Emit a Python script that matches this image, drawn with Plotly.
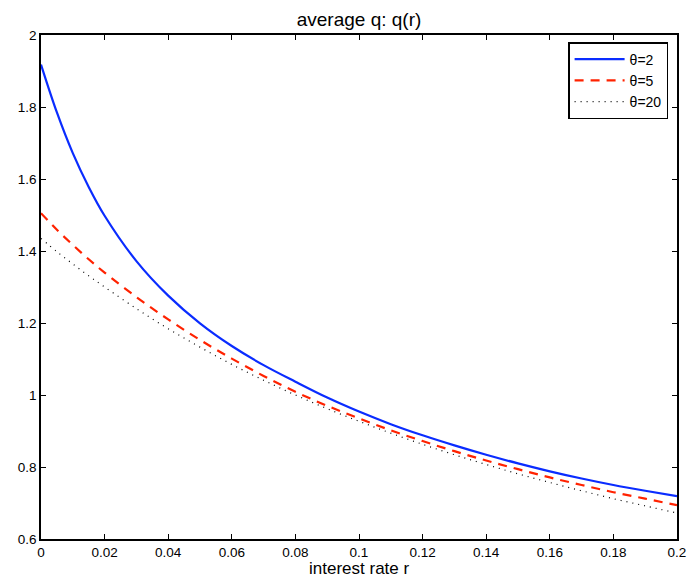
import plotly.graph_objects as go

r_vals = [0, 0.005, 0.01, 0.015, 0.02, 0.03, 0.04, 0.05, 0.06, 0.07, 0.08, 0.09, 0.10,
          0.11, 0.12, 0.13, 0.14, 0.15, 0.16, 0.17, 0.18, 0.19, 0.20]
q_theta2 = [1.918, 1.785, 1.672, 1.578, 1.498, 1.372, 1.276, 1.199, 1.136, 1.083, 1.037, 0.993, 0.954,
            0.919, 0.888, 0.860, 0.834, 0.810, 0.788, 0.768, 0.750, 0.734, 0.719]
q_theta5 = [1.505, 1.459, 1.417, 1.377, 1.340, 1.272, 1.210, 1.153, 1.101, 1.053, 1.009, 0.970, 0.935,
            0.902, 0.872, 0.844, 0.818, 0.794, 0.771, 0.750, 0.730, 0.712, 0.694]
q_theta20 = [1.435, 1.398, 1.364, 1.331, 1.300, 1.240, 1.184, 1.133, 1.085, 1.041, 1.000, 0.962, 0.927,
             0.894, 0.863, 0.834, 0.807, 0.781, 0.757, 0.734, 0.712, 0.692, 0.672]

x_ticks = [0, 0.02, 0.04, 0.06, 0.08, 0.1, 0.12, 0.14, 0.16, 0.18, 0.2]
x_labels = ["0", "0.02", "0.04", "0.06", "0.08", "0.1", "0.12", "0.14", "0.16", "0.18", "0.2"]
y_ticks = [0.6, 0.8, 1.0, 1.2, 1.4, 1.6, 1.8, 2.0]
y_labels = ["0.6", "0.8", "1", "1.2", "1.4", "1.6", "1.8", "2"]

series_names = ["θ=2", "θ=5", "θ=20"]
title_text = "average q: q(r)"
xlabel_text = "interest rate r"

fig = go.Figure()
fig.add_trace(go.Scatter(x=r_vals, y=q_theta2, mode="lines", name=series_names[0],
                         line=dict(color="#0a2cff", width=2.2, shape="spline")))
fig.add_trace(go.Scatter(x=r_vals, y=q_theta5, mode="lines", name=series_names[1],
                         line=dict(color="#ff2200", width=2.2, dash="9px,7px", shape="spline")))
fig.add_trace(go.Scatter(x=r_vals, y=q_theta20, mode="lines", name=series_names[2],
                         line=dict(color="black", width=1.2, dash="1px,5px", shape="spline")))

font = "Liberation Sans, Arial, Helvetica, sans-serif"
axis_common = dict(showgrid=False, zeroline=False, showline=True, linecolor="black", linewidth=1.5,
                   mirror="ticks", ticks="inside", ticklen=5, tickcolor="black", tickwidth=1,
                   automargin=False,
                   tickfont=dict(family=font, size=13.5, color="black"))

fig.update_layout(
    width=691, height=577,
    margin=dict(l=41, r=14, t=35, b=38),
    paper_bgcolor="white", plot_bgcolor="white",
    title=dict(text=title_text, xref="paper", x=0.5, xanchor="center", y=1 - 19 / 577, yanchor="middle",
               font=dict(family=font, size=19, color="black")),
    xaxis=dict(range=[0, 0.2], tickvals=x_ticks, ticktext=x_labels, **axis_common),
    yaxis=dict(range=[0.6, 2], tickvals=y_ticks, ticktext=y_labels, **axis_common),
    legend=dict(x=0.986, y=0.986, xanchor="right", yanchor="top", bgcolor="white",
                bordercolor="black", borderwidth=1.5,
                font=dict(family=font, size=14, color="black"),
                tracegroupgap=0, itemwidth=50),
    showlegend=True,
    annotations=[dict(text=xlabel_text, xref="paper", yref="paper", x=0.5, y=0,
                      xanchor="center", yanchor="middle", yshift=-29, showarrow=False,
                      font=dict(family=font, size=17, color="black"))],
)

fig.write_html("out.html", config={"displayModeBar": False},
               post_script="document.body.style.margin='0px';")
